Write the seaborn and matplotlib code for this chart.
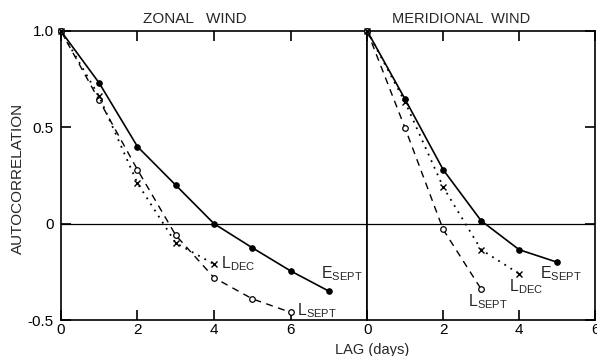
import matplotlib
matplotlib.use("Agg")
import matplotlib.pyplot as plt
import seaborn as sns
import numpy as np

# ---- data ----
zonal_lag_e = [0, 1, 2, 3, 4, 5, 6, 7]
zonal_e_sept = [1.0, 0.73, 0.40, 0.20, 0.0, -0.125, -0.245, -0.35]
zonal_lag_ls = [0, 1, 2, 3, 4, 5, 6]
zonal_l_sept = [1.0, 0.64, 0.28, -0.06, -0.28, -0.39, -0.46]
zonal_lag_ld = [0, 1, 2, 3, 4]
zonal_l_dec = [1.0, 0.66, 0.21, -0.10, -0.21]

merid_lag_e = [0, 1, 2, 3, 4, 5]
merid_e_sept = [1.0, 0.645, 0.28, 0.015, -0.135, -0.20]
merid_lag_ls = [0, 1, 2, 3]
merid_l_sept = [1.0, 0.495, -0.03, -0.34]
merid_lag_ld = [0, 1, 2, 3, 4]
merid_l_dec = [1.0, 0.63, 0.19, -0.135, -0.26]

x_ticks = [0, 2, 4, 6]
y_ticks = [-0.5, 0, 0.5, 1.0]
y_ticklabels = ["-0.5", "0", "0.5", "1.0"]
titles = ["ZONAL   WIND", "MERIDIONAL  WIND"]

sns.set_style("white")
plt.rcParams["font.family"] = ["Liberation Sans", "DejaVu Sans"]
plt.rcParams["mathtext.fontset"] = "custom"
plt.rcParams["mathtext.rm"] = "Liberation Sans"
plt.rcParams["mathtext.it"] = "Liberation Sans"

fig = plt.figure(figsize=(5.97, 3.56), dpi=100)
axL = fig.add_axes([0.102, 0.101, 0.513, 0.812])
axR = fig.add_axes([0.615, 0.101, 0.382, 0.812])

def draw(ax, le, e, lls, ls, lld, ld):
    sns.lineplot(x=le, y=e, ax=ax, color="black", lw=1.2, marker="o",
                 markersize=4, mfc="black", mec="black", clip_on=False)
    sns.lineplot(x=lls, y=ls, ax=ax, color="black", lw=1.0, linestyle=(0, (5, 4)),
                 marker="o", markersize=4, mfc="white", mec="black", mew=0.9, clip_on=False)
    sns.lineplot(x=lld, y=ld, ax=ax, color="black", lw=1.3, linestyle=(0, (1, 3)),
                 marker="x", markersize=4, mec="black", mew=1.0, clip_on=False)
    ax.axhline(0, color="black", lw=0.9, zorder=0)
    ax.set_ylim(-0.5, 1.0)
    for s in ax.spines.values():
        s.set_visible(True)
        s.set_color("black")
        s.set_linewidth(1.2)
    ax.tick_params(direction="in", length=7, width=1.2, colors="black",
                   labelsize=11, top=True, bottom=True)

draw(axL, zonal_lag_e, zonal_e_sept, zonal_lag_ls, zonal_l_sept, zonal_lag_ld, zonal_l_dec)
draw(axR, merid_lag_e, merid_e_sept, merid_lag_ls, merid_l_sept, merid_lag_ld, merid_l_dec)

axL.set_xlim(0, 8)
axR.set_xlim(0, 6)
axL.set_xticks(x_ticks)
axR.set_xticks(x_ticks)
axL.set_xticklabels([str(v) for v in x_ticks])
axR.set_xticklabels([str(v) for v in x_ticks])
axL.tick_params(axis="x", pad=2)
axR.tick_params(axis="x", pad=2)

axL.set_yticks(y_ticks)
axL.set_yticklabels(y_ticklabels)
axL.tick_params(axis="y", left=True, right=False, pad=5)
axR.set_yticks(y_ticks)
axR.tick_params(axis="y", left=False, right=True, labelleft=False, labelright=False)

axL.text(3.5, 1.025, titles[0], ha="center", va="bottom", fontsize=11)
axR.text(2.47, 1.025, titles[1], ha="center", va="bottom", fontsize=10.5)

fig.text(0.03, 0.5, "AUTOCORRELATION", rotation=90, ha="center", va="center", fontsize=11)
fig.text(0.623, 0.017, "LAG (days)", ha="center", va="center", fontsize=10.5)

fs = 11.5
axL.text(4.18, -0.229, r"$\mathrm{L}_{\mathrm{DEC}}$", ha="left", va="baseline", fontsize=fs)
axL.text(6.79, -0.281, r"$\mathrm{E}_{\mathrm{SEPT}}$", ha="left", va="baseline", fontsize=fs)
axL.text(6.16, -0.474, r"$\mathrm{L}_{\mathrm{SEPT}}$", ha="left", va="baseline", fontsize=fs)
axR.text(4.55, -0.281, r"$\mathrm{E}_{\mathrm{SEPT}}$", ha="left", va="baseline", fontsize=fs)
axR.text(3.74, -0.349, r"$\mathrm{L}_{\mathrm{DEC}}$", ha="left", va="baseline", fontsize=fs)
axR.text(2.66, -0.427, r"$\mathrm{L}_{\mathrm{SEPT}}$", ha="left", va="baseline", fontsize=fs)

fig.savefig("out.png", dpi=100)
